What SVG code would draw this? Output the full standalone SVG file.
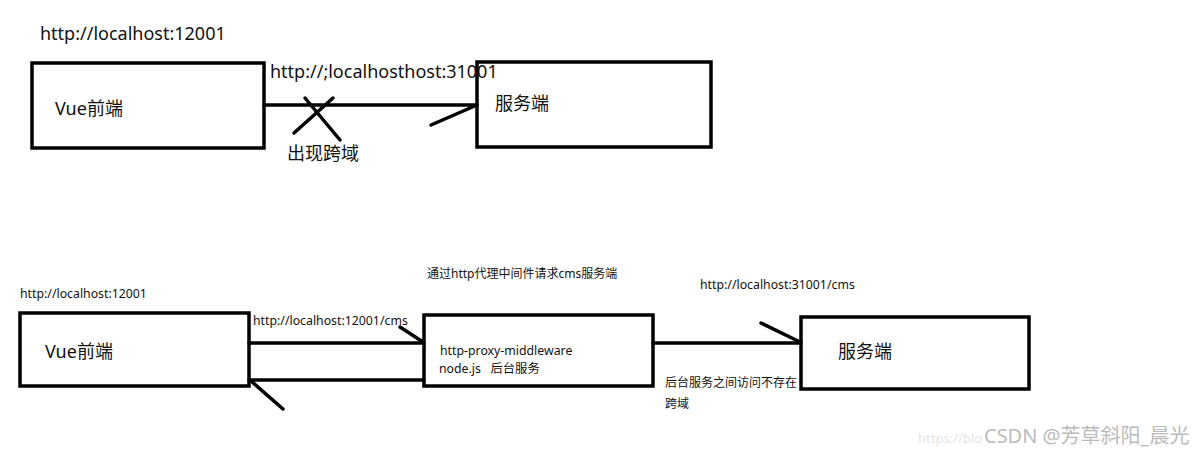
<svg xmlns="http://www.w3.org/2000/svg" width="1200" height="454" viewBox="0 0 1200 454">
<style>
text{font-family:"Noto Sans","Noto Sans CJK SC",sans-serif;fill:#111}
.box{fill:#fff;stroke:#000;stroke-width:3.5}
.ln{stroke:#000;stroke-width:3.5;fill:none;stroke-linecap:round}
.l{font-size:18px}
.s{font-size:12.3px}
.xs{font-size:12px}
.wm{font-size:20px;fill:#bbb}
</style>
<rect width="1200" height="454" fill="#fff"/>
<g id="top-vue"><rect class="box" x="32" y="63" width="232" height="85"/><text class="l" x="55" y="115">Vue前端</text></g>
<g id="top-server"><rect class="box" x="477" y="62" width="234" height="85"/><text class="l" x="495" y="110">服务端</text></g>
<g id="bot-vue"><rect class="box" x="20" y="313" width="229" height="73"/><text class="l" x="45" y="358">Vue前端</text></g>
<g id="bot-proxy"><rect class="box" x="424" y="315" width="229" height="71"/><text class="s" x="440" y="355">http-proxy-middleware</text><text class="s" x="439" y="373" xml:space="preserve">node.js   后台服务</text></g>
<g id="bot-server"><rect class="box" x="801" y="317" width="228" height="72"/><text class="l" x="838" y="358">服务端</text></g>
<g id="connectors">
<line class="ln" x1="264" y1="105" x2="477" y2="105"/>
<line class="ln" x1="431" y1="125" x2="477" y2="105"/>
<line class="ln" x1="294" y1="133" x2="333" y2="98"/>
<line class="ln" x1="305" y1="98" x2="340" y2="140"/>
<line class="ln" x1="249" y1="343" x2="424" y2="343"/>
<line class="ln" x1="400" y1="327" x2="423" y2="342"/>
<line class="ln" x1="249" y1="380" x2="424" y2="380"/>
<line class="ln" x1="251" y1="381" x2="283" y2="409"/>
<line class="ln" x1="653" y1="343" x2="801" y2="343"/>
<line class="ln" x1="761" y1="323" x2="800" y2="342"/>
</g>
<g id="labels">
<text class="l" x="40" y="40">http://localhost:12001</text>
<text class="l" x="270" y="78">http://;localhosthost:31001</text>
<text class="l" x="287" y="160">出现跨域</text>
<text class="s" x="20" y="298">http://localhost:12001</text>
<text class="xs" x="427" y="278">通过http代理中间件请求cms服务端</text>
<text class="s" x="700" y="289">http://localhost:31001/cms</text>
<text class="s" x="253" y="325">http://localhost:12001/cms</text>
<text class="xs" x="665" y="387">后台服务之间访问不存在</text>
<text class="xs" x="665" y="408">跨域</text>
<text x="918" y="443" style="font-size:13px;fill:#e4e4e4">https://blo</text>
<text class="wm" x="984" y="443">CSDN @芳草斜阳_晨光</text>
</g>
</svg>
